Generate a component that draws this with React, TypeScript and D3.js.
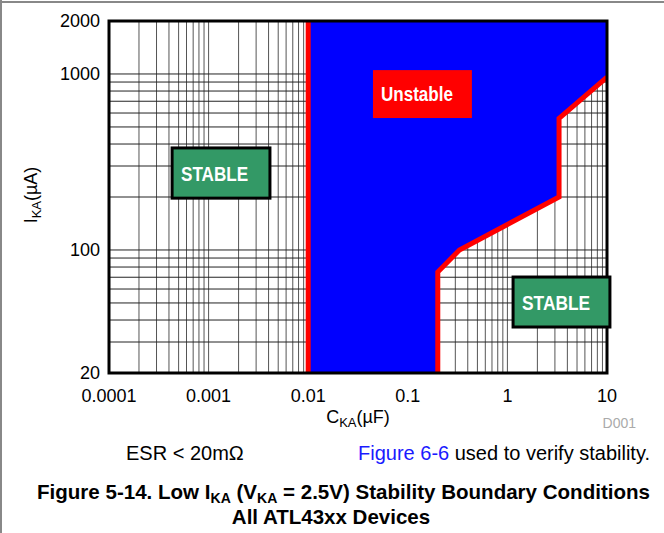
import React from 'react';
import * as d3 from 'd3';

// axis ticks
const xTickValues = [0.0001, 0.001, 0.01, 0.1, 1, 10];
const xTickLabels = ['0.0001', '0.001', '0.01', '0.1', '1', '10'];
const yTickValues = [20, 100, 1000, 2000];
const yTickLabels = ['20', '100', '1000', '2000'];

// stability boundary (C in uF, I in uA)
const leftBoundaryCap = 0.01;
const rightBoundaryCap = [0.2, 0.2, 0.33, 3.3, 3.3, 10];
const rightBoundaryIka = [20, 75, 100, 200, 560, 960];

const W = 664;
const H = 533;
const margin = { left: 109, right: 57, top: 21, bottom: 160 };
const FONT = '"Liberation Sans", Arial, sans-serif';

export default function App() {
  const x = d3.scaleLog().domain([1e-4, 10]).range([margin.left, W - margin.right]);
  const y = d3.scaleLog().domain([20, 2000]).range([H - margin.bottom, margin.top]);
  const [x0, x1] = x.range();
  const [y0, y1] = y.range();

  // minor grid: 1..9 x decade
  const xGrid: number[] = [];
  for (let e = -4; e < 1; e++) for (let k = 1; k <= 9; k++) xGrid.push(k * Math.pow(10, e));
  const yGrid: number[] = [];
  for (let e = 1; e < 4; e++) for (let k = 1; k <= 9; k++) {
    const v = k * Math.pow(10, e);
    if (v > 20 && v < 2000) yGrid.push(v);
  }

  const boundaryPts: [number, number][] = rightBoundaryCap.map((c, i) => [c, rightBoundaryIka[i]]);
  const line = d3.line<[number, number]>().x(d => x(d[0])).y(d => y(d[1]));
  const unstableArea: [number, number][] = [
    [leftBoundaryCap, 2000],
    [leftBoundaryCap, 20],
    ...boundaryPts,
    [10, 2000],
  ];

  return (
    <div style={{ position: 'absolute', left: 0, top: 0 }}>
      <svg width={W} height={H} style={{ display: 'block', background: '#fff' }}>
        <defs>
          <clipPath id="plot-clip">
            <rect x={x0} y={y1} width={x1 - x0} height={y0 - y1} />
          </clipPath>
        </defs>

        {/* page frame */}
        <line x1={0} x2={W} y1={2} y2={2} stroke="#888" strokeWidth={2} />
        <line x1={1} x2={1} y1={0} y2={H} stroke="#888" strokeWidth={2} />

        {/* grid */}
        <g>
          {xGrid.filter(v => v > 1e-4).map((v, i) => (
            <line key={'gx' + i} x1={x(v)} x2={x(v)} y1={y1} y2={y0} stroke="#555" strokeWidth={1} />
          ))}
          {yGrid.map((v, i) => (
            <line key={'gy' + i} x1={x0} x2={x1} y1={y(v)} y2={y(v)} stroke="#222" strokeWidth={1} />
          ))}
        </g>

        {/* unstable region */}
        <g clipPath="url(#plot-clip)">
          <path d={line(unstableArea) || ''} fill="#0000ff" />
          <line x1={x(leftBoundaryCap)} x2={x(leftBoundaryCap)} y1={y1} y2={y0} stroke="#ff0000" strokeWidth={5} />
          <path d={line(boundaryPts) || ''} fill="none" stroke="#ff0000" strokeWidth={5} strokeLinejoin="miter" />
        </g>

        {/* plot border */}
        <rect x={x0} y={y1} width={x1 - x0} height={y0 - y1} fill="none" stroke="#000" strokeWidth={3} />

        {/* region labels */}
        <rect x={x(0.0447)} y={y(1052)} width={x(0.44) - x(0.0447)} height={y(562) - y(1052)} fill="#ff0000" />
        <text x={x(0.0447) + 8} y={y(1052) + 31} fill="#fff" fontFamily={FONT} fontWeight="bold" fontSize={20}
          textLength={72} lengthAdjust="spacingAndGlyphs">Unstable</text>

        <rect x={x(0.00043)} y={y(380)} width={x(0.00413) - x(0.00043)} height={y(197) - y(380)} fill="#339966" stroke="#000" strokeWidth={3} />
        <text x={x(0.00043) + 9} y={y(380) + 33} fill="#fff" fontFamily={FONT} fontWeight="bold" fontSize={21}
          textLength={67} lengthAdjust="spacingAndGlyphs">STABLE</text>

        <rect x={x(1.14)} y={y(70.2)} width={x(10.7) - x(1.14)} height={y(36.5) - y(70.2)} fill="#339966" stroke="#000" strokeWidth={3} />
        <text x={x(1.14) + 9} y={y(70.2) + 33} fill="#fff" fontFamily={FONT} fontWeight="bold" fontSize={21}
          textLength={68} lengthAdjust="spacingAndGlyphs">STABLE</text>

        {/* y ticks */}
        {yTickValues.map((v, i) => (
          <text key={'yt' + i} x={x0 - 9} y={y(v) + 6} textAnchor="end" fontFamily={FONT} fontSize={18} fill="#000">
            {yTickLabels[i]}
          </text>
        ))}
        {/* x ticks */}
        {xTickValues.map((v, i) => (
          <text key={'xt' + i} x={x(v)} y={y0 + 29} textAnchor="middle" fontFamily={FONT} fontSize={18} fill="#000">
            {xTickLabels[i]}
          </text>
        ))}

        {/* axis titles */}
        <text x={358} y={y0 + 50} textAnchor="middle" fontFamily={FONT} fontSize={18} fill="#000">
          C<tspan fontSize={13} dy={4}>KA</tspan><tspan dy={-4}>(µF)</tspan>
        </text>
        <text transform={`translate(37, 195) rotate(-90)`} textAnchor="middle" fontFamily={FONT} fontSize={18} fill="#000">
          I<tspan fontSize={13} dy={4}>KA</tspan><tspan dy={-4}>(µA)</tspan>
        </text>
        <text x={636} y={428} textAnchor="end" fontFamily={FONT} fontSize={14} fill="#aaa">D001</text>

        {/* notes */}
        <text x={126} y={460} fontFamily={FONT} fontSize={20} fill="#000">ESR &lt; 20mΩ</text>
        <text x={650} y={460} textAnchor="end" fontFamily={FONT} fontSize={20} fill="#000">
          <tspan fill="#1a1aff">Figure 6-6</tspan> used to verify stability.
        </text>

        {/* caption */}
        <text x={37} y={499} fontFamily={FONT} fontSize={20.5} fontWeight="bold" fill="#000"
          textLength={613} lengthAdjust="spacingAndGlyphs">
          Figure 5-14. Low I<tspan fontSize={14} dy={4}>KA</tspan><tspan dy={-4}> (V</tspan><tspan fontSize={14} dy={4}>KA</tspan><tspan dy={-4}> = 2.5V) Stability Boundary Conditions</tspan>
        </text>
        <text x={331} y={524} textAnchor="middle" fontFamily={FONT} fontSize={20.5} fontWeight="bold" fill="#000">
          All ATL43xx Devices
        </text>
      </svg>
    </div>
  );
}
